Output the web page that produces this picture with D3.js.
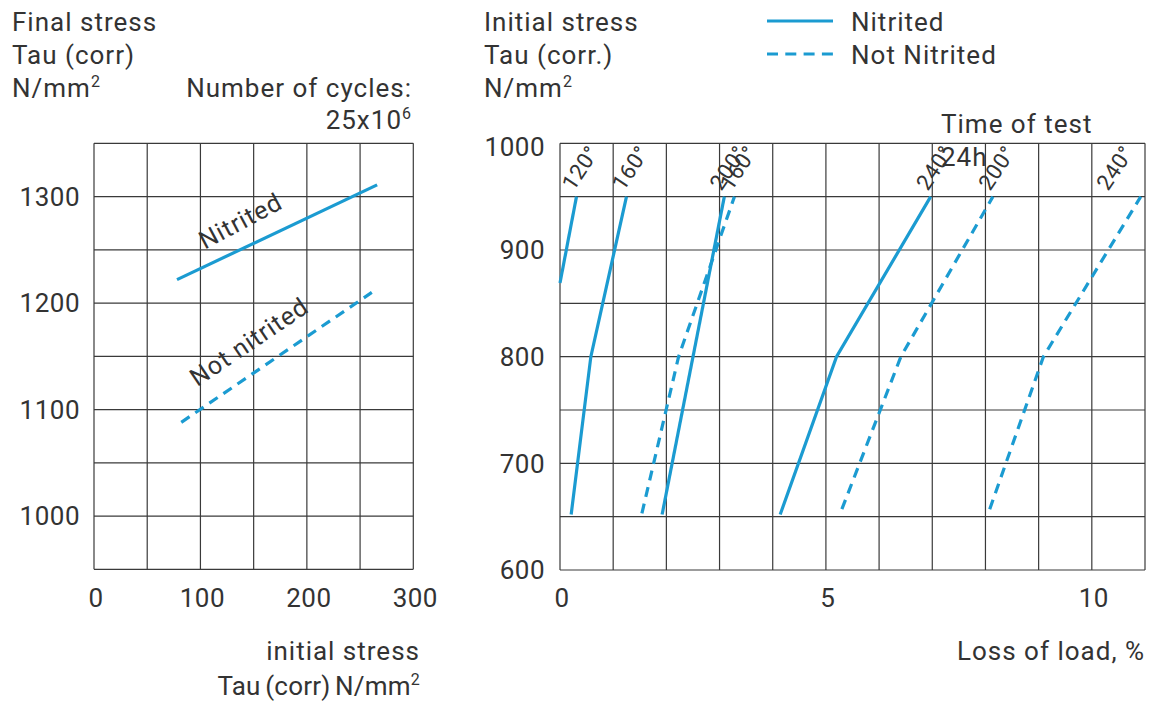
<!DOCTYPE html>
<html><head><meta charset="utf-8">
<script src="https://cdn.jsdelivr.net/npm/d3@7"></script>
<style>
html,body{margin:0;padding:0;background:#fff;}
svg text{font-family:Roboto,"Noto Sans",sans-serif;fill:#333;letter-spacing:1px;}
svg text.num{letter-spacing:0.5px;}
svg text.tight{letter-spacing:0.2px;word-spacing:-2px;}
</style></head>
<body><svg id="chart" width="1151" height="702"></svg>
<script>
// ---- Left chart data ----
const leftXTicks = [0, 100, 200, 300];
const leftYTicks = [1000, 1100, 1200, 1300];
const leftNitrited = [[78, 1222], [266, 1311]];
const leftNotNitrited = [[82, 1088], [261, 1210]];

// ---- Right chart data (x: loss of load %, y: initial stress) ----
const rightXTicks = [0, 5, 10];
const rightYTicks = [600, 700, 800, 900, 1000];
const nit120 = [[0, 869], [0.31, 950]];
const nit160 = [[0.21, 652], [0.58, 800], [1.25, 950]];
const nit200 = [[1.92, 652], [3.09, 950]];
const nit240 = [[4.14, 652], [5.20, 800], [6.97, 950]];
const not160 = [[1.54, 653], [2.23, 800], [3.28, 950]];
const not200 = [[5.30, 657], [6.41, 800], [8.14, 950]];
const not240 = [[8.08, 657], [9.09, 800], [10.92, 950]];
const solidSeries = [nit120, nit160, nit200, nit240];
const solidLabels = ["120°", "160°", "200°", "240°"];
const dashedSeries = [not160, not200, not240];
const dashedLabels = ["160°", "200°", "240°"];

const BLUE = "#1b9bd1", GRID = "#3a3a3a";
const svg = d3.select("#chart");

// ================= LEFT CHART =================
const lx = d3.scaleLinear().domain([0, 300]).range([94, 413.3]);
const ly = d3.scaleLinear().domain([950, 1350]).range([569.3, 143.3]);
const gL = svg.append("g");
gL.selectAll("line.v").data(d3.range(0, 301, 50)).join("line")
  .attr("x1", d => lx(d)).attr("x2", d => lx(d)).attr("y1", ly(1350)).attr("y2", ly(950))
  .attr("stroke", GRID).attr("stroke-width", 1.2);
gL.selectAll("line.h").data(d3.range(950, 1351, 50)).join("line")
  .attr("x1", lx(0)).attr("x2", lx(300)).attr("y1", d => ly(d)).attr("y2", d => ly(d))
  .attr("stroke", GRID).attr("stroke-width", 1.2);
gL.selectAll("text.yt").data(leftYTicks).join("text").attr("class", "num")
  .attr("x", 80).attr("y", d => ly(d)).attr("dy", "0.36em").attr("text-anchor", "end")
  .attr("font-size", 26).text(d => d);
gL.selectAll("text.xt").data(leftXTicks).join("text").attr("class", "num")
  .attr("x", d => lx(d) + 2).attr("y", 607).attr("text-anchor", "middle")
  .attr("font-size", 26).text(d => d);
const lineL = d3.line().x(d => lx(d[0])).y(d => ly(d[1]));
gL.append("path").attr("d", lineL(leftNitrited)).attr("fill", "none")
  .attr("stroke", BLUE).attr("stroke-width", 3.2);
gL.append("path").attr("d", lineL(leftNotNitrited)).attr("fill", "none")
  .attr("stroke", BLUE).attr("stroke-width", 3.2).attr("stroke-dasharray", "10,7");
gL.append("text").attr("transform", `translate(${lx(104)},${ly(1250)}) rotate(-28)`)
  .attr("font-size", 25).text("Nitrited");
gL.append("text").attr("transform", `translate(${lx(97)},${ly(1121)}) rotate(-34)`)
  .attr("font-size", 25).text("Not nitrited");

const leftTitle = ["Final stress", "Tau (corr)", "N/mm"];
gL.selectAll("text.tt").data(leftTitle).join("text")
  .attr("x", 12).attr("y", (d, i) => 31 + i * 33).attr("font-size", 26)
  .each(function (d, i) {
    d3.select(this).text(d);
    if (i === 2) d3.select(this).append("tspan").attr("dy", -10).attr("font-size", 16).text("2");
  });
gL.append("text").attr("x", 412).attr("y", 97).attr("text-anchor", "end").attr("font-size", 26)
  .text("Number of cycles:");
const cyc = gL.append("text").attr("x", 412).attr("y", 129).attr("text-anchor", "end").attr("font-size", 26);
cyc.append("tspan").text("25x10");
cyc.append("tspan").attr("dy", -10).attr("font-size", 16).text("6");
gL.append("text").attr("x", 420).attr("y", 660).attr("text-anchor", "end").attr("font-size", 26)
  .text("initial stress");
const lt2 = gL.append("text").attr("class", "tight").attr("x", 420).attr("y", 695)
  .attr("text-anchor", "end").attr("font-size", 26);
lt2.append("tspan").text("Tau (corr) N/mm");
lt2.append("tspan").attr("dy", -10).attr("font-size", 16).text("2");

// ================= RIGHT CHART =================
const rx = d3.scaleLinear().domain([0, 11]).range([560, 1145]);
const ry = d3.scaleLinear().domain([600, 1000]).range([570, 143.3]);
const gR = svg.append("g");
gR.selectAll("line.v").data(d3.range(0, 12, 1)).join("line")
  .attr("x1", d => rx(d)).attr("x2", d => rx(d)).attr("y1", ry(1000)).attr("y2", ry(600))
  .attr("stroke", GRID).attr("stroke-width", 1.2);
gR.selectAll("line.h").data(d3.range(600, 1001, 50)).join("line")
  .attr("x1", rx(0)).attr("x2", rx(11)).attr("y1", d => ry(d)).attr("y2", d => ry(d))
  .attr("stroke", GRID).attr("stroke-width", 1.2);
gR.selectAll("text.yt").data(rightYTicks).join("text").attr("class", "num")
  .attr("x", 545).attr("y", d => ry(d) + (d === 1000 ? 3 : 0)).attr("dy", "0.36em").attr("text-anchor", "end")
  .attr("font-size", 26).text(d => d);
gR.selectAll("text.xt").data(rightXTicks).join("text").attr("class", "num")
  .attr("x", d => rx(d) + 2).attr("y", 607).attr("text-anchor", "middle")
  .attr("font-size", 26).text(d => d);
const lineR = d3.line().x(d => rx(d[0])).y(d => ry(d[1]));
solidSeries.forEach(s => {
  gR.append("path").attr("d", lineR(s)).attr("fill", "none")
    .attr("stroke", BLUE).attr("stroke-width", 3.2);
});
dashedSeries.forEach(s => {
  gR.append("path").attr("d", lineR(s)).attr("fill", "none")
    .attr("stroke", BLUE).attr("stroke-width", 3.2).attr("stroke-dasharray", "10,7");
});
function degLabel(series, label) {
  const top = series[series.length - 1];
  const ax = Math.min(rx(top[0]) - 3, rx(11) - 37);
  const ay = ry(top[1]) - 5;
  gR.append("text").attr("class", "num").attr("transform", `translate(${ax},${ay}) rotate(-56)`)
    .attr("font-size", 22).text(label);
}
solidSeries.forEach((s, i) => degLabel(s, solidLabels[i]));
dashedSeries.forEach((s, i) => degLabel(s, dashedLabels[i]));

gR.append("text").attr("x", 941).attr("y", 133).attr("font-size", 26).text("Time of test");
gR.append("text").attr("x", 941).attr("y", 166).attr("font-size", 26).text("24h");
gR.append("text").attr("x", 1145).attr("y", 660).attr("text-anchor", "end").attr("font-size", 26)
  .text("Loss of load, %");

const rightTitle = ["Initial stress", "Tau (corr.)", "N/mm"];
gR.selectAll("text.tt").data(rightTitle).join("text")
  .attr("x", 484).attr("y", (d, i) => 31 + i * 33).attr("font-size", 26)
  .each(function (d, i) {
    d3.select(this).text(d);
    if (i === 2) d3.select(this).append("tspan").attr("dy", -10).attr("font-size", 16).text("2");
  });

const legendItems = ["Nitrited", "Not Nitrited"];
const lg = svg.append("g");
legendItems.forEach((name, i) => {
  const y = 21 + i * 33;
  lg.append("line").attr("x1", 767).attr("x2", 833).attr("y1", y).attr("y2", y)
    .attr("stroke", BLUE).attr("stroke-width", 3.2)
    .attr("stroke-dasharray", i === 1 ? "11,7.3" : null);
  lg.append("text").attr("x", 851).attr("y", y + 9.5).attr("font-size", 26).text(name);
});
</script></body></html>
